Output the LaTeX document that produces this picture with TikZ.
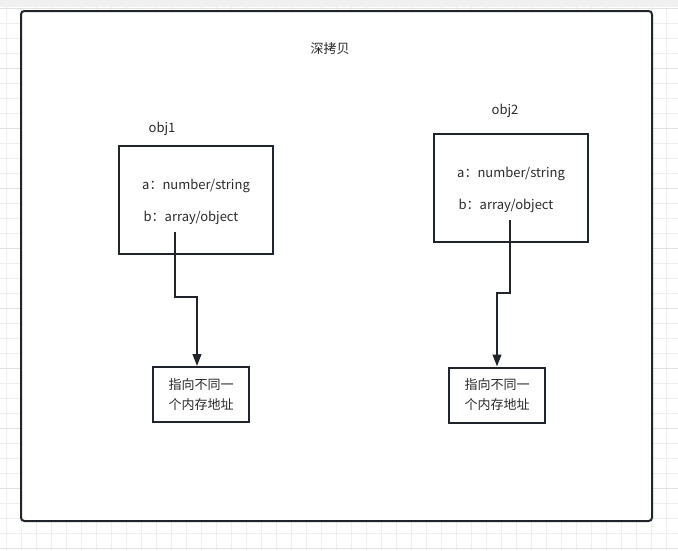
\documentclass[tikz,border=0pt]{standalone}
\usepackage{fontspec}
\setmainfont{Noto Sans CJK SC}
\usetikzlibrary{arrows.meta}
\definecolor{linecol}{HTML}{1F252B}
\definecolor{txtcol}{HTML}{2B2B2B}
\definecolor{gridcol}{HTML}{EFEFEF}
\definecolor{gridmaj}{HTML}{E2E2E2}
\tikzset{
	frame/.style    = {draw=linecol, line width=1.5pt, rounded corners=2.5pt, fill=white},
	objbox/.style   = {draw=linecol, line width=1.5pt, rectangle, minimum width=115.5pt,
		minimum height=81pt},
	addrbox/.style  = {draw=linecol, line width=1.5pt, rectangle, minimum width=72pt,
		minimum height=41.25pt, align=center, text=txtcol, font=\fontsize{9.75}{15}\selectfont},
	lbl/.style      = {text=txtcol, font=\fontsize{9.75}{11}\selectfont, inner sep=0pt},
	link/.style     = {draw=linecol, line width=1.5pt}
}

\begin{document}
\begin{tikzpicture}[x=0.75pt, y=-0.75pt, >={Triangle[length=9pt,width=6.5pt]}]
	\useasboundingbox (0,0) rectangle (678,550);

	% background grid
	\foreach \k in {0,...,45} {
		\draw[gridcol, line width=0.75pt] (6+15*\k,7) -- (6+15*\k,550);
	}
	\foreach \k in {0,...,36} {
		\draw[gridcol, line width=0.75pt] (0,8+15*\k) -- (678,8+15*\k);
	}
	\foreach \k in {0,...,9} {
		\draw[gridmaj, line width=0.75pt] (0,8+60*\k) -- (678,8+60*\k);
	}
	\fill[gray!12] (0,0) rectangle (678,7);

	% outer frame
	\draw[frame] (21,11) rectangle (652,521);

	\draw
	node at (330,49) [lbl] (title) {深拷贝}
	node at (162,129) [lbl] (n1) {obj1}
	node at (505,111) [lbl] (n2) {obj2}
	node at (196,200) [objbox] (o1) {}
	node at (511,188) [objbox] (o2) {}
	node at (196,185.5) [lbl] (a1) {a：number/string}
	node at (191,217.5) [lbl] (b1) {b：array/object}
	node at (511,173.5) [lbl] (a2) {a：number/string}
	node at (506,205.5) [lbl] (b2) {b：array/object}
	node at (201,394.5) [addrbox] (t1) {指向不同一\\个内存地址}
	node at (497,395) [addrbox] (t2) {指向不同一\\个内存地址};

	\coordinate (s1) at (175,232);
	\coordinate (m1) at (197,297);
	\coordinate (s2) at (510,220);
	\coordinate (m2) at (497,293);

	\draw[link, ->] (s1) |- (m1) -- (m1 |- t1.north);
	\draw[link, ->] (s2) |- (m2) -- (m2 |- t2.north);

\end{tikzpicture}
\end{document}
